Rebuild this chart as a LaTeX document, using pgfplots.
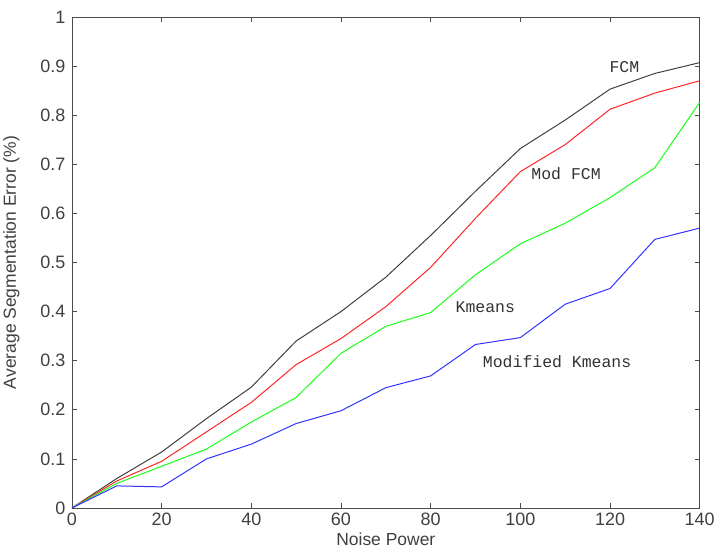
\documentclass[border=0pt]{standalone}
\usepackage{fontspec}
\setmainfont{Liberation Sans}
\newfontfamily\labelfont{Liberation Mono}
\usepackage{pgfplots}
\pgfplotsset{compat=1.18}

\begin{document}
\begin{tikzpicture}
\begin{axis}[
    width=629pt, height=492pt,
    scale only axis,
    xmin=0, xmax=140, ymin=0, ymax=1,
    xtick={0,20,...,140},
    ytick={0,0.1,...,1},
    yticklabel style={/pgf/number format/fixed},
    /pgf/number format/assume math mode=true,
    tick label style={font=\fontsize{18}{20}\selectfont, text=black!75},
    label style={font=\fontsize{17.5}{20}\selectfont, text=black!75},
    xlabel={Noise Power},
    ylabel={Average Segmentation Error (\%)},
    xlabel style={yshift=-1pt},
    ylabel style={yshift=14pt},
    tick align=inside,
    major tick length=5pt,
    axis line style={black!70, line width=0.8pt},
    every tick/.style={black!70, line width=0.6pt},
    xticklabel style={yshift=-1pt},
    yticklabel style={xshift=-3pt},
  ]
  \addplot[black!75, line width=1pt] coordinates {
    (0,0) (10,0.06) (20,0.114) (30,0.182) (40,0.246) (50,0.34) (60,0.40)
    (70,0.47) (80,0.555) (90,0.645) (100,0.732) (110,0.79) (120,0.853)
    (130,0.885) (140,0.907)
  };
  \addplot[red!85, line width=1pt] coordinates {
    (0,0) (10,0.055) (20,0.095) (30,0.155) (40,0.215) (50,0.292) (60,0.345)
    (70,0.41) (80,0.49) (90,0.59) (100,0.685) (110,0.74) (120,0.812)
    (130,0.845) (140,0.87)
  };
  \addplot[green!90, line width=1pt] coordinates {
    (0,0) (10,0.05) (20,0.085) (30,0.12) (40,0.175) (50,0.225) (60,0.315)
    (70,0.37) (80,0.398) (90,0.475) (100,0.538) (110,0.58) (120,0.632)
    (130,0.693) (140,0.826)
  };
  \addplot[blue!80, line width=1pt] coordinates {
    (0,0) (10,0.045) (20,0.043) (30,0.10) (40,0.13) (50,0.172) (60,0.198)
    (70,0.245) (80,0.269) (90,0.333) (100,0.347) (110,0.415) (120,0.447)
    (130,0.547) (140,0.57)
  };
  \node[font=\labelfont\fontsize{16.5}{18}\selectfont, text=black!80] at (axis cs:123.2,0.898) {FCM};
  \node[font=\labelfont\fontsize{16.5}{18}\selectfont, text=black!80] at (axis cs:110.2,0.68) {Mod FCM};
  \node[font=\labelfont\fontsize{16.5}{18}\selectfont, text=black!80] at (axis cs:92.2,0.408) {Kmeans};
  \node[font=\labelfont\fontsize{16.5}{18}\selectfont, text=black!80] at (axis cs:108.2,0.298) {Modified Kmeans};
\end{axis}
% a little empty room above the axis, as in the reference
\path ([yshift=17pt]current axis.north);
\end{tikzpicture}
\end{document}
